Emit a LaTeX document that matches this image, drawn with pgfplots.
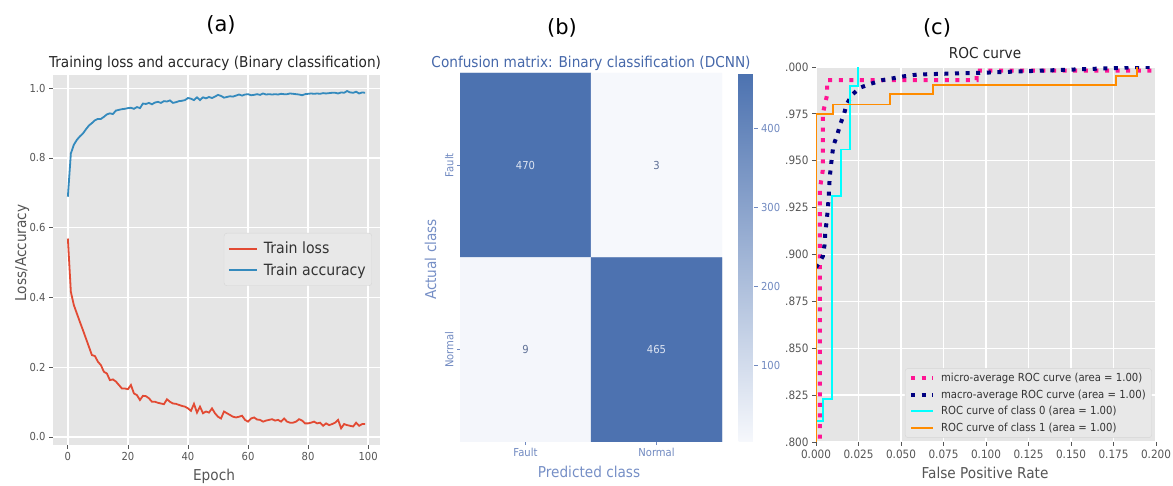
\documentclass[border=0pt]{standalone}
\usepackage{pgfplots}
\pgfplotsset{compat=1.18}
\usepackage{fontspec}
\setmainfont{DejaVu Sans}[FakeStretch=0.91]
\newfontfamily\labfont{DejaVu Sans}
\definecolor{ggbg}{HTML}{E5E5E5}
\definecolor{ggtick}{HTML}{555555}
\definecolor{ggred}{HTML}{E24A33}
\definecolor{ggblue}{HTML}{348ABD}
\definecolor{ggleg}{HTML}{E8E8E8}
\definecolor{ggledge}{HTML}{D6D6D6}
\definecolor{bdark}{RGB}{76,114,176}
\definecolor{btitle}{RGB}{70,104,170}
\definecolor{blabel}{RGB}{118,143,198}
\definecolor{btick}{RGB}{112,137,192}
\definecolor{bcelllight}{RGB}{222,229,242}
\definecolor{bcelldark}{RGB}{95,112,150}
\definecolor{deeppink}{HTML}{FF1493}
\definecolor{navyc}{HTML}{000080}
\definecolor{cyanc}{HTML}{00FFFF}
\definecolor{darkorange}{HTML}{FF8C00}
\pgfplotsset{
  ggstyle/.style={
    scale only axis,
    axis background/.style={fill=ggbg},
    axis line style={draw=none},
    grid=major,
    grid style={white, line width=1.4pt},
    tick align=outside,
    xtick pos=bottom, ytick pos=left,
    major tick length=4pt,
    tick style={ggtick, line width=0.8pt},
    ticklabel style={ggtick},
    /pgf/number format/assume math mode=true,
  }
}
\pgfplotstableread{
e loss acc
0 0.569 0.689
1 0.416 0.813
2 0.378 0.838
3 0.354 0.852
4 0.330 0.862
5 0.307 0.870
6 0.283 0.882
7 0.259 0.893
8 0.235 0.900
9 0.232 0.908
10 0.216 0.912
11 0.206 0.912
12 0.187 0.918
13 0.182 0.925
14 0.163 0.928
15 0.165 0.926
16 0.159 0.936
17 0.149 0.938
18 0.139 0.940
19 0.139 0.941
20 0.137 0.943
21 0.149 0.944
22 0.125 0.941
23 0.120 0.946
24 0.106 0.943
25 0.118 0.956
26 0.117 0.955
27 0.111 0.958
28 0.101 0.954
29 0.101 0.959
30 0.098 0.961
31 0.096 0.958
32 0.094 0.963
33 0.108 0.962
34 0.101 0.965
35 0.096 0.958
36 0.095 0.960
37 0.092 0.963
38 0.089 0.964
39 0.087 0.966
40 0.082 0.972
41 0.075 0.970
42 0.095 0.966
43 0.070 0.974
44 0.087 0.966
45 0.068 0.974
46 0.073 0.971
47 0.070 0.975
48 0.082 0.972
49 0.068 0.976
50 0.058 0.981
51 0.053 0.978
52 0.073 0.973
53 0.068 0.975
54 0.063 0.977
55 0.058 0.976
56 0.056 0.979
57 0.058 0.982
58 0.061 0.979
59 0.049 0.982
60 0.044 0.983
61 0.053 0.980
62 0.056 0.981
63 0.050 0.983
64 0.049 0.981
65 0.044 0.985
66 0.047 0.982
67 0.049 0.983
68 0.051 0.982
69 0.047 0.983
70 0.049 0.982
71 0.044 0.984
72 0.053 0.983
73 0.044 0.983
74 0.041 0.985
75 0.041 0.984
76 0.044 0.983
77 0.051 0.982
78 0.047 0.980
79 0.039 0.983
80 0.039 0.984
81 0.041 0.985
82 0.044 0.984
83 0.039 0.985
84 0.041 0.984
85 0.032 0.986
86 0.039 0.985
87 0.034 0.986
88 0.037 0.987
89 0.041 0.987
90 0.049 0.985
91 0.025 0.988
92 0.037 0.987
93 0.034 0.992
94 0.032 0.988
95 0.030 0.987
96 0.041 0.990
97 0.032 0.985
98 0.037 0.988
99 0.037 0.987
}\trainlog
\begin{document}
\begin{tikzpicture}
\path[use as bounding box] (0pt,0pt) rectangle (1173pt,486pt);

% ---------------- (a) ----------------
\begin{axis}[ggstyle, at={(53pt,41pt)}, anchor=south west,
  width=327pt, height=370pt,
  xmin=-4.95, xmax=103.95, ymin=-0.023, ymax=1.038,
  xtick={0,20,40,60,80,100},
  ytick={0,0.2,0.4,0.6,0.8,1.0},
  yticklabel style={/pgf/number format/.cd, fixed, fixed zerofill, precision=1},
  tick label style={font=\fontsize{11}{12}\selectfont},
  legend style={at={(0.9755,0.573)}, anchor=north east, fill=ggleg, draw=ggledge,
    rounded corners=3pt, font=\fontsize{15.5}{18}\selectfont, text=black!80,
    inner xsep=4pt, inner ysep=7pt, row sep=4pt, column sep=4pt},
  legend cell align=left,
  legend image code/.code={\draw[#1] (0pt,0pt) -- (28pt,0pt);},
]
\addplot[ggred, line width=1.8pt] table[x=e, y=loss] {\trainlog};
\addlegendentry{Train loss}
\addplot[ggblue, line width=1.8pt] table[x=e, y=acc] {\trainlog};
\addlegendentry{Train accuracy}
\end{axis}

% ---------------- (b) ----------------
\begin{axis}[at={(460pt,44pt)}, anchor=south west, scale only axis,
  width=262pt, height=369pt,
  xmin=-0.5, xmax=1.5, ymin=-0.5, ymax=1.5, y dir=reverse,
  axis line style={draw=none},
  xtick={0,1}, xticklabels={Fault,Normal},
  ytick={0,1}, yticklabels={Fault,Normal},
  tick align=outside, major tick length=3pt,
  xtick pos=bottom, ytick pos=left,
  tick style={btick, line width=0.5pt},
  tick label style={font=\fontsize{11}{12}\selectfont, text=btick},
  yticklabel style={rotate=90, anchor=south},
  colormap={cmb}{rgb255=(246,248,252) rgb255=(76,114,176)},
  point meta min=3, point meta max=470,
  colorbar,
  colorbar style={at={(parent axis.north east)}, anchor=north west,
    xshift=8pt, width=15pt,
    ytick={100,200,300,400},
    axis line style={draw=none},
    tick align=outside, major tick length=4pt,
    ytick pos=right, yticklabel pos=right,
    tick style={btick, line width=0.5pt},
    yticklabel style={font=\fontsize{11}{12}\selectfont, text=btick,
      /pgf/number format/assume math mode=true},
  },
]
\addplot[matrix plot*, mesh/cols=2, point meta=explicit]
  coordinates {(0,0) [470] (1,0) [3] (0,1) [9] (1,1) [465]};
\addplot[only marks, mark=none, point meta=explicit symbolic,
  nodes near coords, nodes near coords style={anchor=center, text=bcelllight,
  font=\fontsize{11}{13}\selectfont}]
  coordinates {(0,0) [470] (1,1) [465]};
\addplot[only marks, mark=none, point meta=explicit symbolic,
  nodes near coords, nodes near coords style={anchor=center, text=bcelldark,
  font=\fontsize{11}{13}\selectfont}]
  coordinates {(1,0) [3] (0,1) [9]};
\end{axis}

% ---------------- (c) ----------------
\begin{axis}[ggstyle, at={(816pt,44pt)}, anchor=south west,
  width=340pt, height=375pt,
  xmin=0, xmax=0.2, ymin=0.8, ymax=1.0,
  xtick={0,0.025,0.05,0.075,0.1,0.125,0.15,0.175,0.2},
  xticklabels={0.000,0.025,0.050,0.075,0.100,0.125,0.150,0.175,0.200},
  ytick={0.8,0.825,0.85,0.875,0.9,0.925,0.95,0.975,1.0},
  yticklabels={.800,.825,.850,.875,.900,.925,.950,.975,.000},
  tick label style={font=\fontsize{11.5}{13}\selectfont},
  legend style={at={(0.988,0.011)}, anchor=south east, fill=ggleg, draw=ggledge,
    rounded corners=3pt, font=\fontsize{11.1}{13}\selectfont, text=black!80,
    inner xsep=4pt, inner ysep=3pt, row sep=2.5pt, column sep=4pt},
  legend cell align=left,
  legend image code/.code={\draw[#1] (0pt,0pt) -- (22pt,0pt);},
]
\addplot[deeppink, line width=4pt, dash pattern=on 4pt off 6.6pt] coordinates {
 (0.0023,0.70) (0.0023,0.935) (0.0040,0.945) (0.0040,0.975) (0.0065,0.985)
 (0.0065,0.993) (0.0945,0.993) (0.0945,0.998) (0.2,0.998) (1,1)};
\addlegendentry{micro-average ROC curve (area = 1.00)}
\addplot[navyc, line width=4pt, dash pattern=on 4pt off 6.6pt] coordinates {
 (0,0.893) (0.0040,0.899) (0.0050,0.905) (0.0055,0.912) (0.0063,0.918)
 (0.0070,0.925) (0.0075,0.931) (0.0080,0.940) (0.0085,0.945) (0.0095,0.953)
 (0.0102,0.958) (0.0122,0.963) (0.0145,0.970) (0.0165,0.975) (0.0180,0.980)
 (0.0210,0.985) (0.0260,0.989) (0.0320,0.991) (0.0390,0.993) (0.0455,0.994)
 (0.0514,0.995) (0.0600,0.996) (0.1000,0.997) (0.1780,0.9995) (0.1900,1.0) (1,1)};
\addlegendentry{macro-average ROC curve (area = 1.00)}
\addplot[cyanc, line width=1.8pt] coordinates {
 (0,0.70) (0,0.811) (0.0040,0.811) (0.0040,0.823) (0.0096,0.823) (0.0096,0.931)
 (0.0145,0.931) (0.0145,0.956) (0.0200,0.956) (0.0200,0.990) (0.0245,0.990)
 (0.0245,1.0)};
\addlegendentry{ROC curve of class 0 (area = 1.00)}
\addplot[darkorange, line width=1.8pt] coordinates {
 (0,0.70) (0,0.975) (0.0098,0.975) (0.0098,0.980) (0.0435,0.980) (0.0435,0.9854)
 (0.0690,0.9854) (0.0690,0.9904) (0.1765,0.9904) (0.1765,0.9952) (0.1890,0.9952)
 (0.1890,1.0)};
\addlegendentry{ROC curve of class 1 (area = 1.00)}
\end{axis}

% ---------------- labels ----------------
\node[font=\labfont\fontsize{21}{24}\selectfont, anchor=base] at (221pt,454pt) {(a)};
\node[font=\labfont\fontsize{21}{24}\selectfont, anchor=base] at (562pt,451pt) {(b)};
\node[font=\labfont\fontsize{21}{24}\selectfont, anchor=base] at (937pt,451pt) {(c)};

\node[font=\fontsize{15}{18}\selectfont, anchor=base, text=black!85] at (215pt,418pt)
  {Training loss and accuracy (Binary classification)};
\node[font=\fontsize{15}{18}\selectfont, anchor=base, text=btitle] at (591pt,418pt)
  {Confusion matrix: Binary classification (DCNN)};
\node[font=\fontsize{15}{18}\selectfont, anchor=base, text=black!85] at (985pt,427pt)
  {ROC curve};

\node[font=\fontsize{15}{18}\selectfont, anchor=base, text=ggtick] at (214pt,5.5pt) {Epoch};
\node[font=\fontsize{15}{18}\selectfont, anchor=base, text=ggtick, rotate=90] at (26pt,233pt) {Loss/Accuracy};
\node[font=\fontsize{15}{18}\selectfont, anchor=base, text=blabel] at (589pt,8pt) {Predicted class};
\node[font=\fontsize{15}{18}\selectfont, anchor=base, text=blabel, rotate=90] at (436pt,226.5pt) {Actual class};
\node[font=\fontsize{15}{18}\selectfont, anchor=base, text=ggtick] at (985pt,7pt) {False Positive Rate};
\end{tikzpicture}
\end{document}
